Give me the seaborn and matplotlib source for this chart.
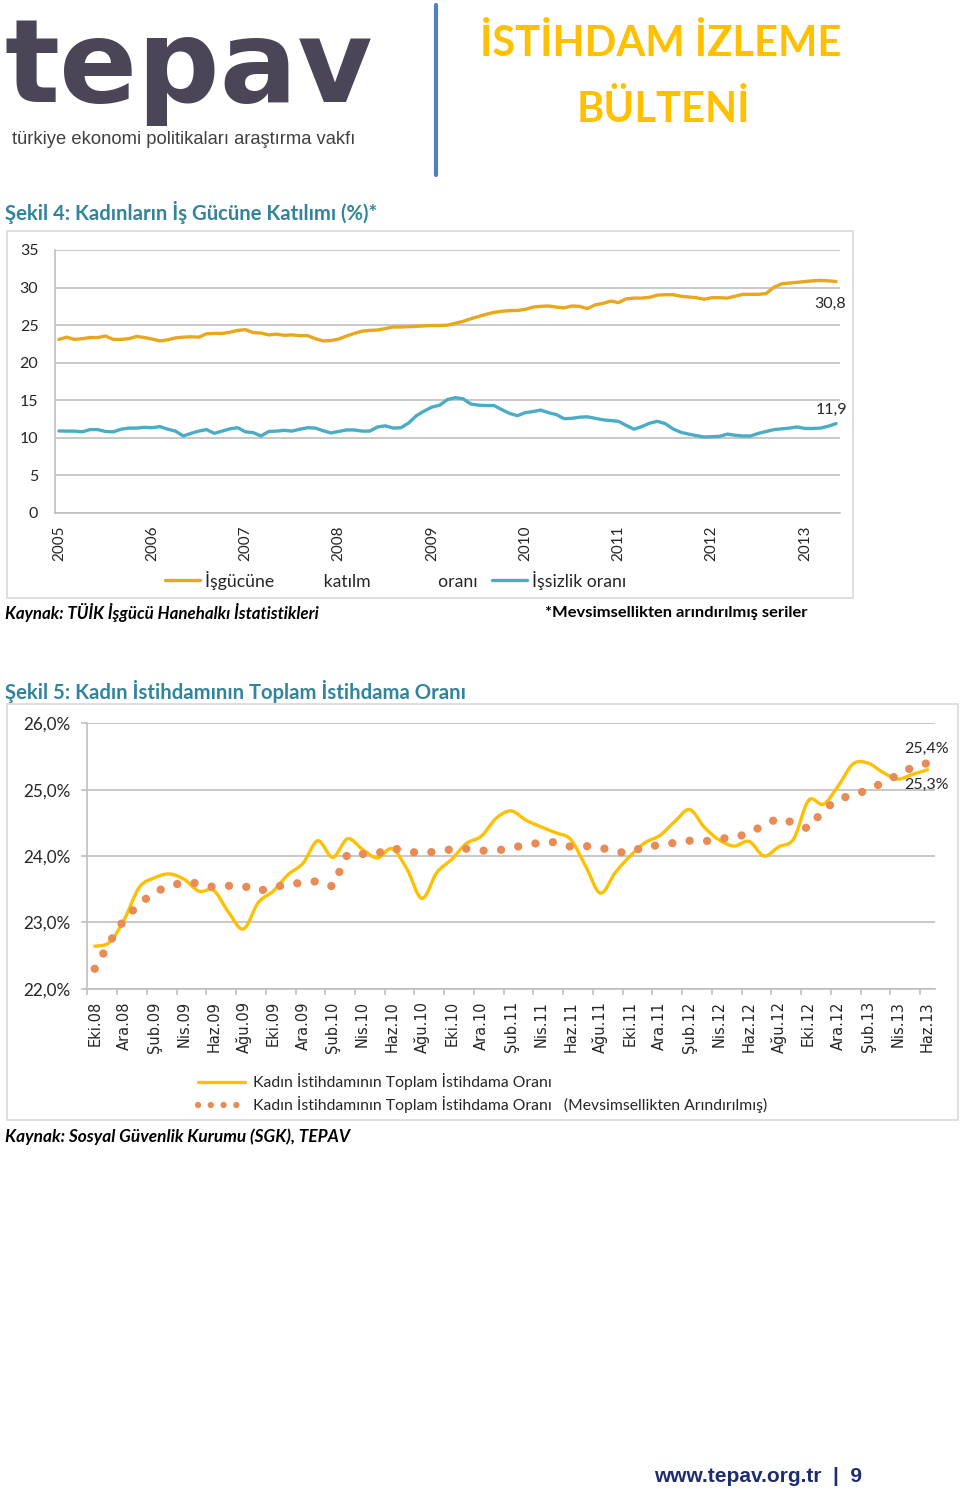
import numpy as np
import pandas as pd
import matplotlib
matplotlib.use("Agg")
import matplotlib.pyplot as plt
import seaborn as sns
from matplotlib.path import Path
from matplotlib.patches import PathPatch, Rectangle
from matplotlib.lines import Line2D

# ---------------- data: chart 1 (monthly, Jan 2005 - May 2013) ----------------
years = ["2005", "2006", "2007", "2008", "2009", "2010", "2011", "2012", "2013"]
participation = [
    23.1, 23.4, 23.1, 23.2, 23.35, 23.35, 23.55, 23.1, 23.1, 23.2, 23.5, 23.35,
    23.15, 22.9, 23.05, 23.3, 23.4, 23.45, 23.4, 23.85, 23.9, 23.9, 24.05, 24.3,
    24.4, 24.0, 23.95, 23.7, 23.8, 23.65, 23.7, 23.6, 23.6, 23.2, 22.9, 22.95,
    23.15, 23.55, 23.9, 24.2, 24.3, 24.35, 24.55, 24.75, 24.75, 24.8, 24.85, 24.9,
    24.95, 24.95, 25.0, 25.25, 25.5, 25.85, 26.15, 26.45, 26.7, 26.85, 26.93, 26.95,
    27.1, 27.4, 27.5, 27.55, 27.4, 27.3, 27.55, 27.5, 27.2, 27.7, 27.9, 28.2,
    28.0, 28.5, 28.6, 28.6, 28.7, 29.0, 29.05, 29.05, 28.85, 28.75, 28.65, 28.45,
    28.65, 28.65, 28.6, 28.85, 29.1, 29.1, 29.1, 29.2, 30.05, 30.5, 30.6, 30.7,
    30.8, 30.9, 30.95, 30.9, 30.8,
]
unemployment = [
    10.92, 10.9, 10.9, 10.8, 11.1, 11.1, 10.85, 10.8, 11.15, 11.3, 11.3, 11.4,
    11.35, 11.5, 11.15, 10.9, 10.25, 10.6, 10.9, 11.1, 10.6, 10.9, 11.2, 11.35,
    10.8, 10.7, 10.25, 10.85, 10.9, 11.0, 10.9, 11.15, 11.35, 11.3, 10.95, 10.65,
    10.85, 11.05, 11.05, 10.9, 10.9, 11.45, 11.6, 11.3, 11.35, 11.98, 12.95, 13.57,
    14.1, 14.35, 15.1, 15.35, 15.2, 14.5, 14.35, 14.3, 14.3, 13.75, 13.25, 12.95,
    13.35, 13.5, 13.7, 13.35, 13.1, 12.55, 12.6, 12.75, 12.8, 12.6, 12.4, 12.3,
    12.2, 11.65, 11.15, 11.5, 11.95, 12.2, 11.9, 11.2, 10.75, 10.5, 10.3, 10.12,
    10.15, 10.2, 10.5, 10.35, 10.25, 10.25, 10.6, 10.85, 11.1, 11.2, 11.3, 11.45,
    11.25, 11.25, 11.3, 11.55, 11.9,
]
c1_yticks = [0, 5, 10, 15, 20, 25, 30, 35]
c1_series = ["İşgücüne           katılm               oranı", "İşsizlik oranı"]
c1_last_labels = ["30,8", "11,9"]

# ---------------- data: chart 2 (monthly, Eki.08 - Haz.13) ----------------
months = ["Eki.08", "Kas.08", "Ara.08", "Oca.09", "Şub.09", "Mar.09", "Nis.09", "May.09",
          "Haz.09", "Tem.09", "Ağu.09", "Eyl.09", "Eki.09", "Kas.09", "Ara.09", "Oca.10",
          "Şub.10", "Mar.10", "Nis.10", "May.10", "Haz.10", "Tem.10", "Ağu.10", "Eyl.10",
          "Eki.10", "Kas.10", "Ara.10", "Oca.11", "Şub.11", "Mar.11", "Nis.11", "May.11",
          "Haz.11", "Tem.11", "Ağu.11", "Eyl.11", "Eki.11", "Kas.11", "Ara.11", "Oca.12",
          "Şub.12", "Mar.12", "Nis.12", "May.12", "Haz.12", "Tem.12", "Ağu.12", "Eyl.12",
          "Eki.12", "Kas.12", "Ara.12", "Oca.13", "Şub.13", "Mar.13", "Nis.13", "May.13",
          "Haz.13"]
women_share = [
    22.64, 22.7, 23.05, 23.53, 23.67, 23.73, 23.65, 23.47, 23.48, 23.15,
    22.9, 23.3, 23.47, 23.72, 23.89, 24.23, 23.98, 24.26, 24.1, 23.97,
    24.11, 23.8, 23.36, 23.75, 23.95, 24.19, 24.3, 24.57, 24.68, 24.54,
    24.44, 24.35, 24.25, 23.85, 23.44, 23.75, 24.0, 24.2, 24.31, 24.52,
    24.7, 24.43, 24.24, 24.15, 24.22, 24.0, 24.14, 24.26, 24.84, 24.78,
    25.06, 25.39, 25.4, 25.26, 25.16, 25.23, 25.3,
]
women_share_sa = [
    22.3, 22.7, 23.05, 23.28, 23.45, 23.55, 23.6, 23.59, 23.53, 23.55,
    23.55, 23.47, 23.53, 23.57, 23.6, 23.62, 23.54, 24.03, 24.03, 24.04,
    24.12, 24.07, 24.04, 24.07, 24.1, 24.11, 24.08, 24.08, 24.12, 24.17,
    24.2, 24.21, 24.14, 24.15, 24.13, 24.06, 24.05, 24.15, 24.16, 24.2,
    24.23, 24.22, 24.26, 24.28, 24.34, 24.47, 24.57, 24.5, 24.41, 24.7,
    24.85, 24.93, 24.99, 25.11, 25.22, 25.34, 25.4,
]
c2_yticks = [22, 23, 24, 25, 26]
c2_ytick_labels = ["22,0%", "23,0%", "24,0%", "25,0%", "26,0%"]
c2_series = ["Kadın İstihdamının Toplam İstihdama Oranı",
             "Kadın İstihdamının Toplam İstihdama Oranı   (Mevsimsellikten Arındırılmış)"]
c2_last_labels = ["25,3%", "25,4%"]

# ---------------- style ----------------
sns.set_theme(style="white")
plt.rcParams['font.family'] = ['Lato', 'DejaVu Sans']

ORANGE = "#e8a71c"
BLUE = "#4bacc6"
YELLOW = "#ffc000"
DOT = "#e98b55"
TEAL = "#31849b"
GRID = "#bfbfbf"
FRAME = "#d9d9d9"

W, H = 960, 1495
fig = plt.figure(figsize=(W / 100, H / 100), dpi=100)
fig.patch.set_facecolor("white")


def fx(x):
    return x / W


def fy(y):
    return 1 - y / H


# ---------------- header ----------------
fig.text(fx(4), fy(102), "tepav", fontsize=83, fontweight="bold", family="DejaVu Sans",
         color="#4a4658", ha="left", va="baseline")
fig.text(fx(12), fy(140), "türkiye ekonomi politikaları araştırma vakfı", fontsize=13.2,
         family="Liberation Sans", color="#404040", ha="left", va="center")
fig.add_artist(Line2D([fx(436), fx(436)], [fy(5), fy(175)], color="#4f81bd", lw=3))
fig.text(fx(661), fy(44), "İSTİHDAM İZLEME", fontsize=30, fontweight="bold",
         color=YELLOW, ha="center", va="center")
fig.text(fx(663), fy(110), "BÜLTENİ", fontsize=30, fontweight="bold",
         color=YELLOW, ha="center", va="center")

# ---------------- chart 1 ----------------
fig.text(fx(5), fy(213), "Şekil 4: Kadınların İş Gücüne Katılımı (%)*", fontsize=14.6,
         fontweight="bold", color=TEAL, ha="left", va="center")
fig.add_artist(Rectangle((fx(7), fy(598)), (853 - 7) / W, (598 - 231) / H, transform=fig.transFigure,
                         facecolor="none", edgecolor=FRAME, lw=1.2))

ax1 = fig.add_axes([fx(55), fy(513), (840 - 55) / W, (513 - 250) / H])
idx1 = np.arange(len(participation))
df1 = pd.DataFrame({
    "i": np.concatenate([idx1, idx1]),
    "val": participation + unemployment,
    "series": [c1_series[0]] * len(participation) + [c1_series[1]] * len(unemployment),
})
sns.lineplot(data=df1, x="i", y="val", hue="series", palette={c1_series[0]: ORANGE, c1_series[1]: BLUE},
             lw=2.4, ax=ax1, legend=False)
ax1.set_xlim(-0.5, len(participation) - 0.5)
ax1.set_ylim(0, 35)
ax1.set_yticks(c1_yticks)
ax1.set_yticklabels([str(v) for v in c1_yticks], fontsize=11.5)
ax1.set_xticks(np.arange(0, len(participation), 12))
ax1.set_xticklabels(years, rotation=90, fontsize=11)
ax1.set_xlabel("")
ax1.set_ylabel("")
ax1.grid(axis="y", color=GRID, lw=1.2)
ax1.grid(axis="x", visible=False)
for s in ["top", "right"]:
    ax1.spines[s].set_visible(False)
for s in ["left", "bottom"]:
    ax1.spines[s].set_color(GRID)
    ax1.spines[s].set_linewidth(1.2)
ax1.tick_params(axis="y", length=0, pad=12)
ax1.tick_params(axis="x", length=0, pad=9)
ax1.annotate(c1_last_labels[0], xy=(idx1[-1], participation[-1]), xytext=(-4, -16),
             textcoords="offset points", ha="center", va="center", fontsize=11.5)
ax1.annotate(c1_last_labels[1], xy=(idx1[-1], unemployment[-1]), xytext=(-3.5, 10),
             textcoords="offset points", ha="center", va="center", fontsize=11.5)

h1 = [Line2D([], [], color=ORANGE, lw=2.4), Line2D([], [], color=BLUE, lw=2.4)]
fig.legend(h1, c1_series, loc="center left", bbox_to_anchor=(fx(165), fy(580)), ncol=2,
           frameon=False, fontsize=12.7, handlelength=2.0, handletextpad=0.28,
           columnspacing=0.8, borderpad=0, borderaxespad=0)

fig.text(fx(5), fy(613), "Kaynak: TÜİK İşgücü Hanehalkı İstatistikleri", fontsize=12.2,
         fontweight="bold", style="italic", ha="left", va="center", color="black")
fig.text(fx(545), fy(613), "*Mevsimsellikten arındırılmış seriler", fontsize=11.85,
         fontweight="bold", ha="left", va="center", color="black")

# ---------------- chart 2 ----------------
fig.text(fx(5), fy(691), "Şekil 5: Kadın İstihdamının Toplam İstihdama Oranı", fontsize=14.6,
         fontweight="bold", color=TEAL, ha="left", va="center")
fig.add_artist(Rectangle((fx(7), fy(1120)), (958 - 7) / W, (1120 - 704) / H, transform=fig.transFigure,
                         facecolor="none", edgecolor=FRAME, lw=1.2))

ax2 = fig.add_axes([fx(87.3), fy(988.7), (935 - 87.3) / W, (988.7 - 723.3) / H])
idx2 = np.arange(len(months))


def smooth_path(xs, ys):
    n = len(xs)
    verts = [(xs[0], ys[0])]
    codes = [Path.MOVETO]
    for i in range(n - 1):
        pp = (xs[max(i - 1, 0)], ys[max(i - 1, 0)])
        p0 = (xs[i], ys[i])
        p1 = (xs[i + 1], ys[i + 1])
        pn = (xs[min(i + 2, n - 1)], ys[min(i + 2, n - 1)])
        c1 = (p0[0] + (p1[0] - pp[0]) / 6, p0[1] + (p1[1] - pp[1]) / 6)
        c2 = (p1[0] - (pn[0] - p0[0]) / 6, p1[1] - (pn[1] - p0[1]) / 6)
        verts += [c1, c2, p1]
        codes += [Path.CURVE4] * 3
    return Path(verts, codes)


ax2.add_patch(PathPatch(smooth_path(idx2, women_share), facecolor="none", edgecolor=YELLOW,
                        lw=2.4, capstyle="round", joinstyle="round", zorder=2))
df2 = pd.DataFrame({"k": idx2, "val": women_share_sa})
sns.lineplot(data=df2, x="k", y="val", color=DOT, lw=6, linestyle=(0, (0.001, 2.1)),
             dash_capstyle="round", ax=ax2, zorder=3)
ax2.set_xlim(-0.5, len(months) - 0.5)
ax2.set_ylim(22, 26)
ax2.set_yticks(c2_yticks)
ax2.set_yticklabels(c2_ytick_labels, fontsize=12.3)
ax2.set_xticks(idx2[::2])
ax2.set_xticklabels(months[::2], rotation=90, fontsize=10.5, family="DejaVu Sans")
ax2.set_xticks(np.arange(-0.5, len(months) - 1, 2), minor=True)
ax2.set_xlabel("")
ax2.set_ylabel("")
ax2.grid(axis="y", color=GRID, lw=1.2)
ax2.grid(axis="x", visible=False)
for s in ["top", "right"]:
    ax2.spines[s].set_visible(False)
for s in ["left", "bottom"]:
    ax2.spines[s].set_color(GRID)
    ax2.spines[s].set_linewidth(1.2)
ax2.tick_params(axis="x", which="major", length=0, pad=9)
ax2.tick_params(axis="x", which="minor", bottom=True, length=4, width=1.2, color=GRID, direction="out")
ax2.tick_params(axis="y", left=True, length=4, width=1.2, color=GRID, direction="out", pad=8)
ax2.annotate(c2_last_labels[1], xy=(idx2[-1], women_share_sa[-1]), xytext=(-0.7, 10),
             textcoords="offset points", ha="center", va="center", fontsize=11.5)
ax2.annotate(c2_last_labels[0], xy=(idx2[-1], women_share[-1]), xytext=(-0.7, -10.6),
             textcoords="offset points", ha="center", va="center", fontsize=11.5)

h2 = [Line2D([], [], color=YELLOW, lw=2.4),
      Line2D([], [], color=DOT, lw=4.6, linestyle=(0, (0.001, 2.0)), dash_capstyle="round")]
fig.legend(h2, c2_series, loc="upper left", bbox_to_anchor=(fx(198), fy(1073)), ncol=1,
           frameon=False, fontsize=11.3, handlelength=3.0, handletextpad=0.5,
           labelspacing=0.4, borderpad=0, borderaxespad=0)

fig.text(fx(5), fy(1137), "Kaynak: Sosyal Güvenlik Kurumu (SGK), TEPAV", fontsize=12.4,
         fontweight="bold", style="italic", ha="left", va="center", color="black")

# ---------------- footer ----------------
fig.text(fx(654), fy(1477), "www.tepav.org.tr  |  9", fontsize=15, fontweight="bold",
         family="Liberation Sans", color="#1f2d6e", ha="left", va="center")

fig.savefig("out.png", dpi=100, facecolor="white")
